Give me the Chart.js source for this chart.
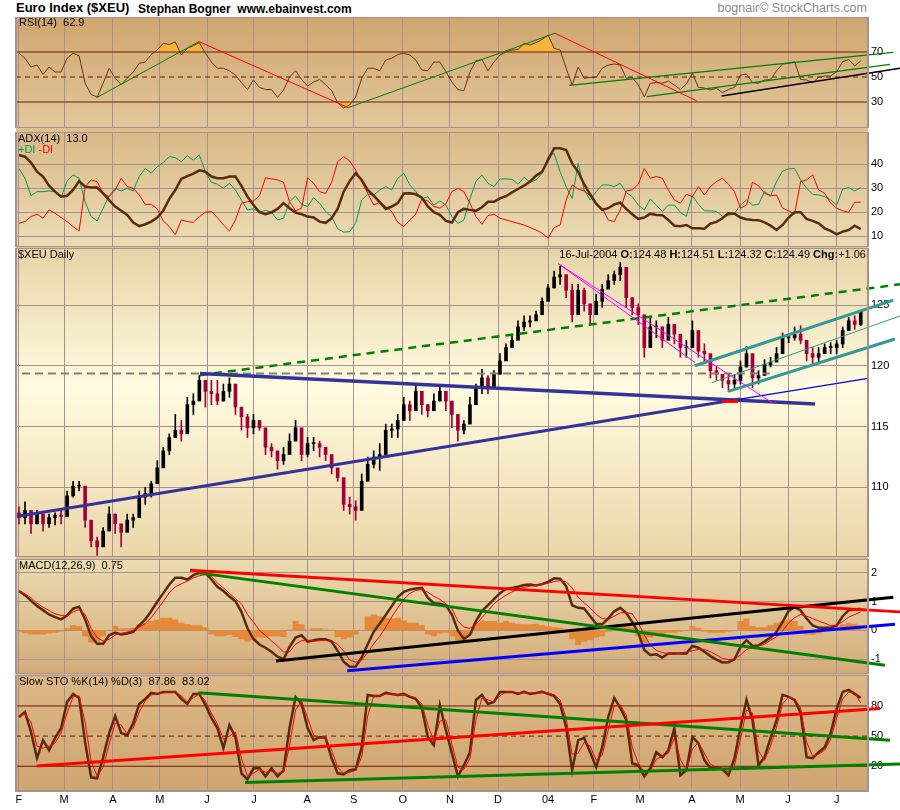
<!DOCTYPE html>
<html>
<head>
<meta charset="utf-8">
<script src="https://cdn.jsdelivr.net/npm/chart.js@4.4.0/dist/chart.umd.min.js"></script>
<style>
  body { margin: 0; background: #fff; width: 900px; height: 810px; position: relative; overflow: hidden;
         font-family: Arial, "Liberation Sans", sans-serif; }
  canvas { position: absolute; left: 0; }
  .t { position: absolute; white-space: nowrap; font-size: 11px; color: #000; z-index: 2; }
  #strip { position: absolute; left: 16px; top: 17px; width: 852px; height: 774px; background: #dcc090; }
</style>
</head>
<body>
<div id="strip"></div>
<canvas id="rsi"></canvas>
<canvas id="adx"></canvas>
<canvas id="price"></canvas>
<canvas id="macd"></canvas>
<canvas id="sto"></canvas>

<div class="t" style="left:16px;top:0px;font-size:13px;font-weight:bold">Euro Index ($XEU)</div>
<div class="t" style="left:138px;top:2px;font-size:12px;font-weight:bold">Stephan Bogner&nbsp;&nbsp;www.ebainvest.com</div>
<div class="t" style="right:33px;top:1px;font-size:12.5px;color:#8a8a8a">bognair© StockCharts.com</div>
<div class="t" style="left:19px;top:16px">RSI(14)&nbsp; 62.9</div>
<div class="t" style="left:18px;top:132px">ADX(14)&nbsp; 13.0</div>
<div class="t" style="left:18px;top:143px"><span style="color:#009a5a">+DI</span> <span style="color:#f00">-DI</span></div>
<div class="t" style="left:18px;top:248px">$XEU Daily</div>
<div class="t" style="right:34px;top:248px">16-Jul-2004 <b>O:</b>124.48 <b>H:</b>124.51 <b>L:</b>124.32 <b>C:</b>124.49 <b>Chg:</b>+1.06</div>
<div class="t" style="left:19px;top:559px">MACD(12,26,9)&nbsp; 0.75</div>
<div class="t" style="left:19px;top:675px">Slow STO %K(14) %D(3)&nbsp; 87.86&nbsp; 83.02</div>

<script>
// x unit = months since Feb 2003, one sample every 1/8 month
const STEP = 0.125;
const X_MIN = -0.062, X_MAX = 17.651;

const monthPos = [0, 0.936, 1.954, 2.93, 3.91, 4.885, 5.99, 6.96, 7.98, 8.96, 9.96, 11.0, 11.95, 12.91, 13.99, 14.99, 15.99, 17.0];
const monthLabels = ['F','M','A','M','J','J','A','S','O','N','D','04','F','M','A','M','J','J'];

const rsi = [69,65,58,59.6,52,58,54,54,65,69, 67,45,36,34,45,57,49,44,49,54,
  61,62,68,71.6,77,76,78,67.6,73,75, 77.5,69,62,57,57,55,51.6,45.5,40,47.6,
  41.7,40,40,33.7,39.6,50,55,48,42.8,46, 48,44,39,29.5,25.2,27.6,34,49,57,57,
  55,63.6,65,68,69,67.6,63.6,55.6,55,62, 62,54.3,46,40,39,54,63,64,55,62,
  67.6,70,71.6,72,77,75.6,77.5,80,83.6,73, 71.6,57,43.6,58,49,49.7,49.7,57,59.6,60.4,
  59.6,49,49.7,43.6,34,45,45.5,45,46.8,43.6, 40,44.4,53,41.7,41.2,39.6,41,37.5,40,41.7,
  51.6,52.4,45.5,45,47.6,48,55,60.4,61,62.3, 48,47.6,45.5,49.7,50.8,50.8,54.3,62.3,64,58.8, 62.9];
const rsiLevels = [70, 50, 30];

const adx = [43.9,43.2,40.7,36.9,34.9,31.1,28.6,26.5,26.9,29.3, 33,30.7,30.3,30.3,27.9,25.1,22.4,20.6,18.9,15.7,
  14.2,15,16.1,17.8,20.7,25.6,29.3,33.9,35.1,36.1, 37.5,36.9,34.9,34.2,34.2,34.9,34.9,31,26.5,23,
  20,19.2,20,21.4,23.8,21.7,19.9,19.2,18.2,17.8, 16.1,15.6,17.5,21.4,28.6,33,36.3,33.5,29.3,26.9,
  24.2,21.4,22.4,23.8,27.8,27.9,27.5,26.1,22.4,20, 18.9,16.4,15.7,20,21.4,21,20.6,22.1,24.4,24.4,
  25.8,26.7,28.3,29.7,31.1,32.8,35.3,36.9,41.8,46.7, 46.7,46,40.4,36.9,31.7,27.5,23.6,21,21.7,23.3,
  24,21.4,19.2,17.2,17.8,19.4,18.9,18.8,16.8,14.4, 14.2,14.7,13.3,13.3,13.1,15.3,16,17.5,19.6,19.4,
  17.8,17.1,16.8,16.7,15.8,14.4,12.6,14.7,17.8,20, 20,17.2,16.4,15.4,13.3,12.2,10.8,11.9,12.6,14.4, 13.0];
const plusDI = [38.3,34.2,26.9,28.6,28.6,28.9,28.6,26.1,33,35.6, 34.2,24.4,18.2,16.4,21.7,26.9,30,28.9,30,28.9,
  34.9,38.3,36.3,39,40.8,43.2,42.8,41.1,43.6,41.8, 43.9,36.9,32.5,31.7,30,32.1,29.3,25.1,21,21.4,
  20,20.8,20,16.8,17.5,24.4,26.8,23.3,22.4,26.1, 23.8,20.3,18.2,13.1,11.7,11.9,15.4,25.1,27.6,27.2,
  29.3,30.7,29.3,34.2,36.3,31.4,28.6,25.6,26.5,23, 24.7,23,18.2,15.4,16.8,25.6,32.8,35.6,32.1,30.7,
  33.9,33.9,33.8,31.7,34.6,32.5,33.5,36.3,43.2,44.6, 36.9,30.7,25.8,40.4,29.3,25.1,28.6,31.4,31.4,30.7,
  32.1,28.2,26.5,23,21,25.6,23,20.3,23,23, 20,18.3,26.9,23.3,20.6,20.6,20.3,18.3,18.6,19.6,
  23,25.1,23,23.3,28.6,26.9,32.8,37.2,38.1,38.3, 33.5,30,27.5,27.2,26.5,25.1,23,29.7,30.3,28.9, 30.3];
const minusDI = [15.4,16.1,18.2,19.2,17.5,21,19.6,17.8,16.1,14, 12.2,30.7,33.5,32.8,27.9,26.5,29.3,34.2,30.7,30,
  27.2,23.3,23.3,21.4,16.4,14,10.6,16.8,16.1,15.8, 18.2,20,20.3,17.8,14.7,12.2,16.8,23.8,24.4,24.7,
  26.9,34.4,33.9,33.5,32.5,24.4,20.6,21.7,34.4,32.1, 28.6,27.9,32.5,41.1,43.2,41.4,37.6,32.8,27.9,23,
  24.2,22.4,20.3,15.8,14,16.8,19.2,25.6,24.7,22.4, 21.7,23.6,28.6,30,28.6,23.8,18.2,15,18.6,19.2,
  17.5,16.8,16.1,15.4,14.7,13.6,12.6,11.3,9.2,13.6, 14.7,25.1,31.4,29.7,28.9,26.9,23.3,21.7,16.8,16.1,
  21,28.9,29.3,31.7,38.3,34.2,34.9,34.2,29.3,25.1, 23.8,27.5,26.5,30.7,27.2,30.7,32.8,34.2,31.7,28.6,
  21.7,23,32.5,31.1,27.9,26.9,27.2,21.7,20.6,19.2, 32.8,33.5,35.6,29.3,27.9,23.8,21.7,20.6,20,24.2, 24.2];

const priceHigh = [108.4,108.8,107.8,108.1,107.8,107.8,107.9,108.1,109.7,110.5, 110.5,108.6,106.4,105.9,106.7,108.4,107.8,106.7,107.8,107.8,
  109.7,110.0,110.5,112.2,113.3,114.4,116.0,115.5,117.4,117.7, 119.2,118.8,118.8,118.8,118.5,119.0,117.7,116.3,116.0,116.0,
  115.5,113.8,113.6,112.9,113.3,114.4,115.5,114.4,114.1,114.1, 113.8,113.3,112.2,111.4,110.5,109.2,108.9,111.1,112.5,113.0,
  113.6,115.2,115.2,116.0,117.4,117.1,118.5,117.6,116.8,117.7, 118.4,117.7,116.8,115.5,115.5,117.4,118.5,119.7,119.2,119.6,
  121.0,121.8,122.5,123.7,124.1,124.1,124.5,125.6,126.7,127.8, 128.2,127.3,126.7,126.7,126.4,125.0,125.9,126.7,127.5,127.8,
  128.5,127.0,125.6,125.1,123.2,124.0,123.7,123.2,124.0,123.4, 122.6,122.1,123.7,122.1,121.8,120.7,119.9,119.3,119.3,119.3,
  120.4,121.6,119.6,119.6,120.5,120.7,121.5,122.7,122.6,123.2, 123.3,121.5,121.5,121.5,121.8,121.9,122.1,123.2,124.0,124.1, 124.51];
const priceLow = [107.0,107.0,106.2,107.0,106.4,106.7,106.9,107.0,108.1,109.2, 109.7,106.7,105.1,104.4,105.6,106.7,106.2,105.1,106.4,106.7,
  107.8,108.6,109.2,110.8,111.9,112.7,114.1,113.8,116.0,116.0, 117.4,116.6,116.8,116.8,117.1,117.4,116.0,114.7,114.1,114.4,
  114.7,112.7,112.5,111.5,111.9,113.0,114.1,112.2,112.5,113.0, 112.5,112.2,111.1,110.5,108.1,107.8,107.3,109.2,111.1,111.6,
  111.4,114.1,114.1,114.1,115.5,115.5,117.1,116.0,115.8,116.3, 117.1,116.3,114.9,113.8,114.4,116.0,117.4,117.7,117.7,118.5,
  119.6,120.7,121.5,122.6,122.9,123.2,123.7,124.7,125.6,126.4, 126.7,125.6,123.6,125.3,124.5,123.4,124.5,124.8,126.4,126.7,
  127.0,124.8,124.2,123.4,120.7,122.1,122.3,121.5,122.3,121.8, 120.7,120.7,121.5,120.7,120.4,119.0,118.8,118.2,117.9,118.2,
  118.5,119.9,118.2,118.5,119.6,119.9,120.4,121.5,121.9,122.1, 121.8,120.4,120.1,120.3,121.0,121.0,121.0,121.5,123.2,123.0, 123.3];
const priceClose = [107.5,108.1,107.0,107.8,107.0,107.5,107.7,107.6,109.3,110.1, 110.1,107.3,105.6,105.1,106.4,107.8,107.0,106.3,107.3,107.5,
  109.2,109.5,110.3,111.6,113.0,114.1,114.7,114.4,116.8,117.1, 118.8,117.9,117.7,117.1,117.9,118.5,116.6,115.8,114.9,115.5,
  114.9,113.3,113.0,112.2,112.7,113.8,114.9,112.7,113.6,113.6, 113.3,112.7,111.6,110.8,108.6,108.4,108.1,110.5,111.9,112.5,
  112.7,114.7,114.8,115.5,116.8,116.3,117.9,116.8,116.3,117.1, 117.9,117.1,116.0,114.7,115.2,116.8,118.2,119.0,118.2,119.3,
  120.4,121.5,122.1,123.2,123.6,123.7,124.2,125.3,126.4,127.3, 127.5,126.2,124.2,126.2,125.1,124.2,125.3,126.3,127.0,127.5,
  128.1,125.6,124.8,124.2,121.5,123.2,123.2,122.1,123.4,122.6, 121.5,121.5,122.9,121.2,121.0,119.6,119.3,118.8,118.5,118.8,
  119.9,121.0,119.0,119.2,120.1,120.3,121.0,122.3,122.3,122.6, 122.1,121.0,120.7,121.0,121.5,121.5,121.8,122.9,123.7,123.4, 124.49];
const FIRST_OPEN = 107.9;

const macd = [1.36,1.22,1.03,0.84,0.70,0.55,0.46,0.38,0.51,0.75, 0.82,0.38,-0.20,-0.46,-0.46,-0.17,-0.08,-0.14,-0.11,-0.05,
  0.17,0.38,0.67,0.99,1.29,1.59,1.82,1.82,1.76,1.91, 1.99,1.99,1.76,1.51,1.36,1.17,1.01,0.64,0.07,-0.30,
  -0.49,-0.60,-0.74,-0.91,-1.00,-0.57,-0.25,-0.17,-0.39,-0.34, -0.31,-0.31,-0.39,-0.71,-1.08,-1.26,-1.25,-0.94,-0.48,-0.05,
  0.24,0.53,0.84,1.15,1.33,1.41,1.45,1.47,1.13,0.94, 0.92,0.87,0.55,0.00,-0.30,-0.15,0.32,0.67,0.87,1.08,
  1.29,1.43,1.47,1.51,1.57,1.59,1.55,1.60,1.68,1.80, 1.79,1.53,0.87,0.78,0.76,0.49,0.23,0.21,0.41,0.66,
  0.78,0.60,0.29,-0.08,-0.68,-0.85,-0.83,-0.94,-0.80,-0.80, -0.80,-0.80,-0.54,-0.60,-0.74,-0.89,-1.01,-1.11,-1.10,-1.00,
  -0.57,-0.34,-0.54,-0.52,-0.39,-0.25,-0.05,0.29,0.67,0.80, 0.69,0.41,0.17,0.09,0.09,0.09,0.17,0.49,0.70,0.72, 0.75];
const macdSignal = [1.36,1.26,1.13,0.94,0.80,0.69,0.57,0.52,0.49,0.64, 0.72,0.55,0.07,-0.25,-0.37,-0.31,-0.16,-0.10,-0.06,0.00,
  0.11,0.24,0.44,0.72,1.00,1.31,1.51,1.61,1.70,1.82, 1.89,1.93,1.87,1.64,1.47,1.28,1.10,0.92,0.55,0.29,
  0.00,-0.17,-0.37,-0.54,-0.75,-0.74,-0.48,-0.36,-0.34,-0.37, -0.36,-0.34,-0.37,-0.48,-0.71,-1.03,-1.10,-1.03,-0.77,-0.46,
  -0.21,0.11,0.47,0.78,1.07,1.28,1.38,1.41,1.32,1.18, 1.07,0.92,0.76,0.32,0.11,0.07,0.21,0.44,0.67,0.92,
  1.08,1.22,1.33,1.43,1.49,1.53,1.55,1.59,1.63,1.69, 1.72,1.68,1.47,1.15,0.95,0.78,0.55,0.41,0.38,0.49,
  0.61,0.61,0.57,0.26,-0.16,-0.51,-0.69,-0.77,-0.80,-0.83, -0.78,-0.75,-0.71,-0.66,-0.66,-0.74,-0.85,-0.97,-1.01,-1.00,
  -0.85,-0.66,-0.60,-0.54,-0.48,-0.34,-0.23,-0.02,0.26,0.44, 0.55,0.49,0.41,0.32,0.25,0.16,0.18,0.30,0.46,0.55, 0.64];
const macdHist = [-0.05,-0.10,-0.14,-0.14,-0.14,-0.11,-0.08,-0.05,0.07,0.18, 0.15,-0.20,-0.43,-0.39,-0.20,0.00,0.16,0.07,0.07,0.09,
  0.21,0.25,0.32,0.38,0.44,0.44,0.38,0.26,0.21,0.18, 0.18,0.11,-0.14,-0.20,-0.20,-0.16,-0.23,-0.31,-0.39,-0.34,
  -0.25,-0.25,-0.20,-0.20,-0.23,0.03,0.32,0.21,0.03,0.07, 0.07,0.03,-0.02,-0.23,-0.31,-0.25,-0.14,0.00,0.49,0.55,
  0.49,0.44,0.41,0.44,0.34,0.26,0.26,0.18,-0.14,-0.20, -0.11,-0.08,-0.20,-0.34,-0.39,-0.14,0.26,0.34,0.32,0.32,
  0.26,0.32,0.26,0.23,0.21,0.21,0.23,0.18,0.15,0.11, 0.09,0.03,-0.31,-0.51,-0.39,-0.34,-0.25,-0.20,-0.05,0.03,
  0.11,0.15,0.11,-0.20,-0.46,-0.25,-0.11,-0.14,-0.08,-0.08, -0.05,0.00,0.15,0.09,-0.05,-0.08,-0.08,-0.08,-0.05,0.00,
  0.32,0.41,0.15,0.11,0.11,0.18,0.26,0.32,0.38,0.32, 0.15,-0.14,-0.16,-0.11,0.09,0.11,0.11,0.21,0.26,0.23, 0.18];

const stoK = [69,74,54,28,46,36,48,58,84,92, 88,44,9,8,29,53,70,53,51,63,
  82,87,93,92,94,94,94,87,82,92, 92,81,68,58,38,61,49,13,7,18,
  18,10,18,10,16,58,89,82,58,46, 49,48,28,13,12,16,17,39,91,90,
  90,93,92,91,92,89,87,78,49,41, 81,56,33,10,21,34,86,91,82,84,
  94,94,94,92,94,92,93,94,92,90, 82,59,16,46,48,34,19,39,69,88,
  78,66,23,21,10,18,34,29,36,58, 11,16,49,43,26,18,19,17,11,28,
  59,86,66,21,29,48,66,91,89,86, 73,29,28,34,39,53,77,94,96,92, 87.86];
const stoD = [70,72,64,40,38,40,43,53,73,89, 90,64,25,10,19,42,63,61,52,58,
  74,85,91,92,93,94,94,90,84,88, 92,85,73,62,47,50,54,28,10,13,
  17,14,15,13,14,40,76,85,68,51, 48,48,36,19,13,14,16,29,70,90,
  90,92,92,91,91,90,88,82,61,45, 65,66,42,19,17,28,66,88,86,84,
  90,94,94,93,93,93,93,93,93,91, 86,68,32,33,44,40,26,31,56,80,
  81,71,39,23,14,15,27,30,33,48, 27,16,37,44,33,22,19,18,14,21,
  47,76,73,35,26,40,59,82,89,87, 78,44,30,32,36,47,68,87,94,93, 83.02];
const stoLevels = [80, 50, 20];

// trendlines: [x1, y1, x2, y2]
const rsiGreenUp1 = [1.615, 33.5, 3.742, 78.3];
const rsiRedDown1 = [3.742, 78.3, 6.846, 25.5];
const rsiGreenUp2 = [6.846, 25.5, 11.143, 85];
const rsiRedDown2 = [11.143, 85, 14.089, 31];
const rsiGreenTop = [11.44, 43.3, 18.177, 69.7];
const rsiGreenLow = [13.05, 34.3, 18.108, 60.1];
const rsiBlack = [14.609, 34.8, 18.316, 57];

const priceGreyDash = [0.062, 119.37, 15.61, 119.37];
const priceGreenDash = [3.763, 119.23, 18.316, 126.7];
const priceNavyTop = [3.763, 119.37, 16.549, 116.85];
const priceNavyRise = [-0.048, 107.6, 14.99, 117.26];
const priceBlueRise = [14.99, 117.26, 17.651, 118.97];
const priceRedMark = [14.615, 117.07, 14.948, 117.07];
const priceMagenta1 = [11.212, 128.4, 14.054, 120.27];
const priceMagenta2 = [11.212, 128.4, 15.682, 116.9];
const priceTealTop = [14.054, 120.0, 18.177, 125.4];
const priceTealLow = [14.746, 117.9, 18.212, 122.2];
const priceTealMid = [14.401, 118.6, 18.316, 124.1];

const macdRed = [3.555, 2.08, 18.316, 0.64];
const macdGreen = [3.728, 1.99, 18.004, -1.21];
const macdBlack = [5.343, -1.06, 18.177, 1.15];
const macdBlue = [6.825, -1.40, 18.212, 0.21];

const stoRed = [0.368, 20.2, 17.9, 77.5];
const stoGreenTop = [3.728, 93.1, 18.108, 46];
const stoGreenLow = [4.699, 3.9, 18.316, 22.2];

const FONT = 'Arial, "Liberation Sans", sans-serif';
const GRID = '#a89090';
const BROWN = '#5a2a10';
const LEVEL = '#6b1c00';
const ORANGE = '#f5b53c';
const UP = '#000000';
const DOWN = '#a3003a';

Chart.defaults.font.family = FONT;
Chart.defaults.font.size = 11;
Chart.defaults.color = '#000';

const pts = arr => arr.map((v, i) => ({ x: i * STEP, y: v }));

function trend(a, color, width, dash) {
  return {
    type: 'line', data: [{ x: a[0], y: a[1] }, { x: a[2], y: a[3] }],
    borderColor: color, borderWidth: width, borderDash: dash || [],
    pointRadius: 0, clip: { left: 0, top: 0, right: 36, bottom: 0 }
  };
}

function series(arr, color, width) {
  return { type: 'line', data: pts(arr), borderColor: color, borderWidth: width, pointRadius: 0 };
}

function level(v, dash) {
  return {
    type: 'line', data: [{ x: X_MIN, y: v }, { x: X_MAX, y: v }],
    borderColor: LEVEL, borderWidth: 1, borderDash: dash ? [5, 4] : [], pointRadius: 0
  };
}

// gradient panel background and frame
const panelBg = {
  id: 'panelBg',
  beforeDraw(chart, args, opts) {
    const { ctx, chartArea: a } = chart;
    const g = ctx.createLinearGradient(0, a.top, 0, a.bottom);
    opts.stops.forEach(s => g.addColorStop(s[0], s[1]));
    ctx.save();
    ctx.fillStyle = g;
    ctx.fillRect(a.left, a.top, a.right - a.left, a.bottom - a.top);
    ctx.restore();
  },
  afterDraw(chart) {
    const { ctx, chartArea: a } = chart;
    ctx.save();
    ctx.strokeStyle = GRID;
    ctx.lineWidth = 2;
    ctx.strokeRect(a.left, a.top, a.right - a.left, a.bottom - a.top);
    ctx.restore();
  }
};

function xScale(showLabels) {
  return {
    type: 'linear', min: X_MIN, max: X_MAX, offset: false,
    afterBuildTicks: s => { s.ticks = monthPos.map(v => ({ value: v })); },
    afterFit: s => { s.paddingLeft = 0; s.paddingRight = 0; s.height = showLabels ? 20 : 0; },
    grid: { color: GRID, lineWidth: 1, drawTicks: false, offset: false },
    border: { display: false },
    ticks: {
      display: showLabels, autoSkip: false, maxRotation: 0, padding: 2,
      font: { size: 11 }, color: '#000',
      callback: (v, i) => monthLabels[i]
    }
  };
}

function yScale(min, max, ticks, grid) {
  return {
    position: 'right', min: min, max: max,
    afterBuildTicks: s => { s.ticks = ticks.map(v => ({ value: v })); },
    afterFit: s => { s.width = 32; s.paddingTop = 0; s.paddingBottom = 0; },
    grid: { display: grid, color: GRID, lineWidth: 1, drawTicks: false },
    border: { display: false },
    ticks: { padding: 3, font: { size: 11 }, color: '#000' }
  };
}

function makePanel(id, top, height, cfg) {
  const cv = document.getElementById(id);
  cv.width = 900;
  cv.height = height;
  cv.style.top = top + 'px';
  return new Chart(cv, {
    type: 'line',
    data: { datasets: cfg.datasets },
    options: {
      responsive: false, animation: false, devicePixelRatio: 1,
      layout: { padding: { left: 16, right: 0, top: 0, bottom: 0 }, autoPadding: false },
      elements: { line: { tension: 0 }, point: { radius: 0 } },
      plugins: { legend: { display: false }, tooltip: { enabled: false }, panelBg: { stops: cfg.stops } },
      scales: { x: xScale(!!cfg.labels), y: yScale(cfg.yMin, cfg.yMax, cfg.ticks, cfg.grid) }
    },
    plugins: [panelBg]
  });
}

// RSI
makePanel('rsi', 17, 111, {
  yMin: 9.2, yMax: 98, ticks: rsiLevels, grid: false,
  stops: [[0, '#cfa56e'], [1, '#e2c79c']],
  datasets: [
    trend(rsiGreenUp1, '#008000', 1), trend(rsiRedDown1, '#ff0000', 1),
    trend(rsiGreenUp2, '#008000', 1), trend(rsiRedDown2, '#ff0000', 1),
    trend(rsiGreenTop, '#008000', 1.5), trend(rsiGreenLow, '#008000', 1.5), trend(rsiBlack, '#000', 1.5),
    series(rsi, '#6b3414', 1),
    level(rsiLevels[0]), level(rsiLevels[1], true), level(rsiLevels[2]),
    { type: 'line', data: pts(rsi), borderWidth: 0, pointRadius: 0,
      fill: { target: { value: 70 }, above: ORANGE, below: 'rgba(0,0,0,0)' } },
    { type: 'line', data: pts(rsi), borderWidth: 0, pointRadius: 0,
      fill: { target: { value: 30 }, above: 'rgba(0,0,0,0)', below: ORANGE } }
  ]
});

// ADX
makePanel('adx', 132, 115, {
  yMin: 5.5, yMax: 53.5, ticks: [10, 20, 30, 40], grid: true,
  stops: [[0, '#d8b986'], [1, '#ecdcb4']],
  datasets: [
    series(adx, BROWN, 2.5),
    series(minusDI, '#ff0000', 1),
    series(plusDI, '#009a5a', 1)
  ]
});

// Price candles (open taken as the previous sample's close)
const priceOpen = priceClose.map((c, i) => i ? priceClose[i - 1] : FIRST_OPEN);
const candleColor = ctx => priceClose[ctx.dataIndex] >= priceOpen[ctx.dataIndex] ? UP : DOWN;

makePanel('price', 248, 309, {
  yMin: 104.27, yMax: 129.69, ticks: [110, 115, 120, 125], grid: true,
  stops: [[0, '#e6d4a6'], [0.45, '#fffbe0'], [1, '#ead6a8']],
  datasets: [
    trend(priceMagenta1, '#ff00ff', 1), trend(priceMagenta2, '#ff00ff', 1),
    trend(priceTealTop, '#339999', 3), trend(priceTealLow, '#339999', 3), trend(priceTealMid, '#339999', 1),
    trend(priceRedMark, '#ff0000', 3),
    trend(priceBlueRise, '#0000ff', 1.2),
    trend(priceNavyTop, '#333399', 3.5), trend(priceNavyRise, '#333399', 3),
    trend(priceGreenDash, '#008000', 2.5, [8, 6]),
    trend(priceGreyDash, '#808080', 2, [8, 5]),
    { type: 'bar', data: priceClose.map((c, i) => ({ x: i * STEP, y: [priceOpen[i], c] })),
      barThickness: 3, grouped: false, minBarLength: 1, backgroundColor: candleColor, borderWidth: 0 },
    { type: 'bar', data: priceHigh.map((h, i) => ({ x: i * STEP, y: [priceLow[i], h] })),
      barThickness: 1, grouped: false, backgroundColor: candleColor, borderWidth: 0 }
  ]
});

// MACD
makePanel('macd', 559, 115, {
  yMin: -1.51, yMax: 2.47, ticks: [-1, 0, 1, 2], grid: true,
  stops: [[0, '#ecdcb2'], [1, '#d3ab78']],
  datasets: [
    trend(macdRed, '#ff0000', 3), trend(macdGreen, '#008000', 3),
    trend(macdBlack, '#000000', 3), trend(macdBlue, '#0000ff', 3),
    series(macdSignal, '#ff0000', 1),
    series(macd, BROWN, 2.5),
    { type: 'line', data: pts(macdHist), borderWidth: 0, pointRadius: 0, stepped: 'middle',
      backgroundColor: '#e5893a', fill: 'origin' }
  ]
});

// Slow stochastics
makePanel('sto', 675, 136, {
  yMin: -4.6, yMax: 110.8, ticks: stoLevels, grid: false, labels: true,
  stops: [[0, '#dcb886'], [1, '#cfa570']],
  datasets: [
    trend(stoRed, '#ff0000', 3), trend(stoGreenTop, '#008000', 3), trend(stoGreenLow, '#008000', 3),
    series(stoD, '#ff0000', 1),
    series(stoK, BROWN, 2.5),
    level(stoLevels[0]), level(stoLevels[1], true), level(stoLevels[2])
  ]
});
</script>
</body>
</html>
